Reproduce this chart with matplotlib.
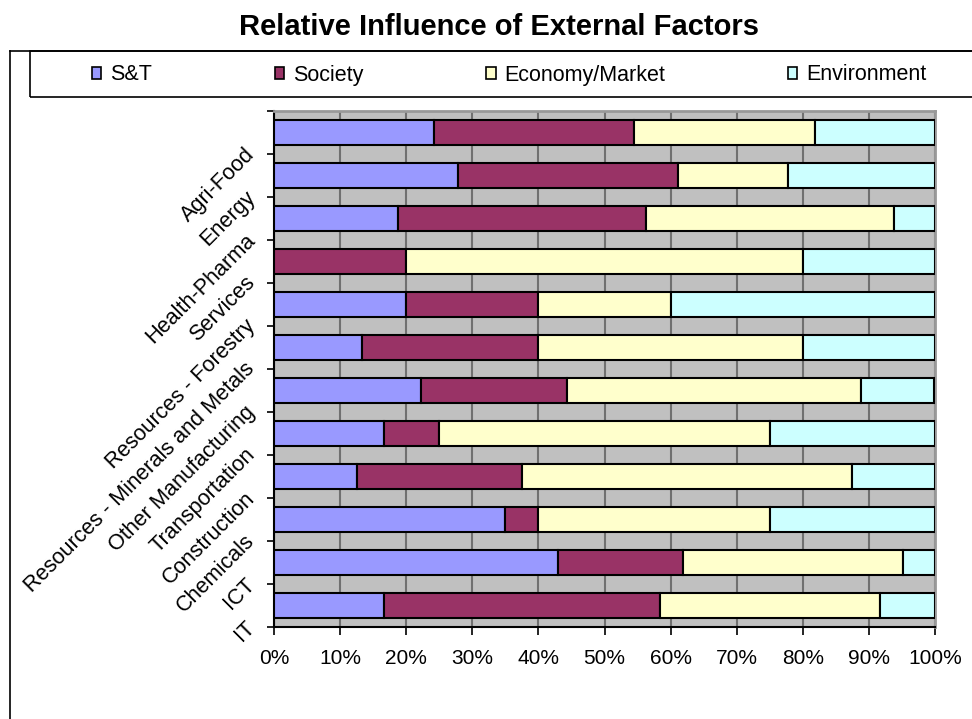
import matplotlib
matplotlib.use("Agg")
import matplotlib.pyplot as plt
from matplotlib.patches import Rectangle, Patch
from matplotlib.lines import Line2D
import matplotlib.transforms as mtransforms
import numpy as np

plt.rcParams['font.family'] = ['Liberation Sans', 'DejaVu Sans']

categories = ["Agri-Food", "Energy", "Health-Pharma", "Services", "Resources - Forestry",
              "Resources - Minerals and Metals", "Other Manufacturing", "Transportation",
              "Construction", "Chemicals", "ICT", "IT"]
st = [24.2, 27.8, 18.75, 0.0, 20.0, 13.3, 22.2, 16.7, 12.5, 35.0, 42.9, 16.7]
society = [30.3, 33.3, 37.5, 20.0, 20.0, 26.7, 22.2, 8.3, 25.0, 5.0, 19.0, 41.7]
economy = [27.3, 16.7, 37.5, 60.0, 20.0, 40.0, 44.4, 50.0, 50.0, 35.0, 33.3, 33.3]
environment = [18.2, 22.2, 6.25, 20.0, 40.0, 20.0, 11.1, 25.0, 12.5, 25.0, 4.8, 8.3]
series_names = ["S&T", "Society", "Economy/Market", "Environment"]
series_colors = ["#9999FF", "#993366", "#FFFFCC", "#CCFFFF"]
xtick_labels = ["0%", "10%", "20%", "30%", "40%", "50%", "60%", "70%", "80%", "90%", "100%"]

W, H = 972, 719
fig = plt.figure(figsize=(W / 100, H / 100), dpi=100)
ax = fig.add_axes([274 / W, 1 - 627 / H, (935 - 274) / W, (627 - 111) / H])
ax.set_facecolor("#C0C0C0")

n = len(categories)
pos = np.arange(n) + 0.5
left = np.zeros(n)
for vals, name, col in zip([st, society, economy, environment], series_names, series_colors):
    v = np.array(vals)
    ax.barh(pos, v, left=left, height=0.59, color=col, edgecolor="black",
            linewidth=1.5, zorder=3, label=name)
    left = left + v

ax.set_xlim(0, 100)
ax.set_ylim(n, 0)
ax.set_xticks(np.arange(0, 101, 10))
ax.set_xticklabels(xtick_labels, fontsize=15)
ax.xaxis.grid(True, color="#707070", linewidth=1.5, zorder=1)
ax.set_axisbelow(True)

ax.set_yticks(np.arange(0, n + 1))
ax.set_yticklabels([""] + categories, fontsize=15.6, rotation=45,
                   ha="right", va="center", rotation_mode="anchor")
ax.tick_params(axis="y", length=5, width=1.2, pad=11, direction="out")
ax.tick_params(axis="x", length=6, width=1.2, pad=10, direction="out")
shift = mtransforms.ScaledTranslation(0, 3 / 100, fig.dpi_scale_trans)
for lbl in ax.get_yticklabels():
    lbl.set_transform(lbl.get_transform() + shift)

for s in ["left", "bottom"]:
    ax.spines[s].set_color("black")
    ax.spines[s].set_linewidth(1.5)
for s in ["top", "right"]:
    ax.spines[s].set_color("#999999")
    ax.spines[s].set_linewidth(2)

fig.text(499 / W, 1 - 27 / H, "Relative Influence of External Factors",
         fontsize=21, fontweight="bold", ha="center", va="center")

# chart area border (extends beyond the image on right/bottom)
fig.add_artist(Line2D([10 / W, 10 / W], [0, 1 - 51 / H], transform=fig.transFigure,
                      color="black", linewidth=1.2))
fig.add_artist(Line2D([10 / W, 1], [1 - 51 / H, 1 - 51 / H], transform=fig.transFigure,
                      color="black", linewidth=1.2))
# legend box
fig.add_artist(Rectangle((30 / W, 1 - 97 / H), 1.2, (97 - 51) / H, transform=fig.transFigure,
                         facecolor="none", edgecolor="black", linewidth=1.2))

handles = [Patch(facecolor=c, edgecolor="black", linewidth=1.2) for c in series_colors]
fig.legend(handles, series_names, loc="center", bbox_to_anchor=(509 / W, 1 - 75 / H),
           ncol=4, frameon=False, fontsize=15.5, handlelength=0.45, handleheight=0.45,
           handletextpad=0.4, columnspacing=5.7, borderaxespad=0)

fig.savefig("out.png", dpi=100)
